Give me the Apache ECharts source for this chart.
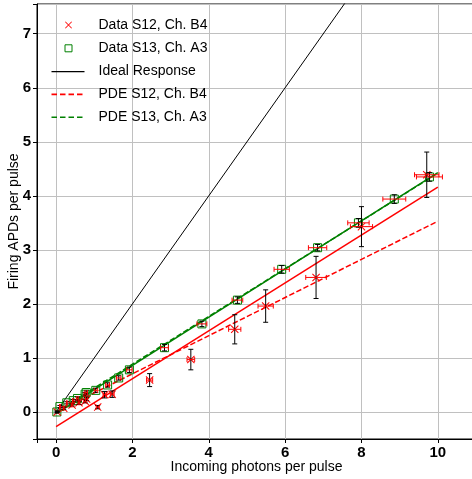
<!DOCTYPE html>
<html>
<head>
<meta charset="utf-8">
<script src="https://cdn.jsdelivr.net/npm/echarts@6/dist/echarts.min.js"></script>
<style>
html,body{margin:0;padding:0;background:#fff;}
#chart{width:472px;height:479px;}
</style>
</head>
<body>
<div id="chart"></div>
<script>
// ---- data ----
const s12X    = [0.03, 0.20, 0.42, 0.60, 0.76, 0.80, 1.09, 1.27, 1.47, 2.45, 3.53, 4.68, 5.49, 6.81, 8.00, 9.71];
const s12Y    = [0.00, 0.07, 0.13, 0.17, 0.20, 0.24, 0.09, 0.32, 0.33, 0.59, 0.97, 1.53, 1.96, 2.49, 3.43, 4.39];
const s12XErr = [0.00, 0.01, 0.02, 0.02, 0.03, 0.03, 0.04, 0.04, 0.05, 0.08, 0.10, 0.16, 0.20, 0.27, 0.29, 0.32];
const s12YErr = [0.01, 0.02, 0.02, 0.03, 0.03, 0.03, 0.03, 0.06, 0.06, 0.12, 0.19, 0.27, 0.30, 0.39, 0.37, 0.42];

const s13X    = [0.02, 0.10, 0.28, 0.45, 0.56, 0.76, 0.79, 1.04, 1.35, 1.64, 1.92, 2.84, 3.82, 4.75, 5.91, 6.85, 7.92, 8.86, 9.78];
const s13Y    = [0.00, 0.10, 0.17, 0.21, 0.25, 0.33, 0.36, 0.40, 0.50, 0.63, 0.78, 1.19, 1.63, 2.07, 2.64, 3.04, 3.50, 3.94, 4.35];
const s13XErr = [0.00, 0.01, 0.01, 0.02, 0.02, 0.03, 0.03, 0.04, 0.05, 0.06, 0.07, 0.10, 0.13, 0.14, 0.20, 0.24, 0.28, 0.30, 0.34];
const s13YErr = [0.02, 0.02, 0.02, 0.02, 0.03, 0.03, 0.03, 0.04, 0.04, 0.04, 0.05, 0.06, 0.05, 0.06, 0.07, 0.06, 0.08, 0.08, 0.08];

const lineX    = [0, 10];
const idealY   = [0, 10];
const fitS12Y  = [-0.27, 4.16];
const pdeS12Y  = [0.00, 3.53];
const fitS13Y  = [-0.03, 4.43];
const pdeS13Y  = [0.00, 4.42];

const xTickValues = [0, 2, 4, 6, 8, 10];
const yTickValues = [0, 1, 2, 3, 4, 5, 6, 7];

const legendNames = ['Data S12, Ch. B4', 'Data S13, Ch. A3', 'Ideal Response', 'PDE S12, Ch. B4', 'PDE S13, Ch. A3'];

// ---- helpers ----
const zip2 = (a, b) => a.map((v, i) => [v, b[i]]);
const zip4 = (a, b, c, d) => a.map((v, i) => [v, b[i], c[i], d[i]]);

const RED = '#ff0000', GREEN = '#008000', FONT = 'Liberation Sans';

function renderErr(params, api) {
  const x = api.value(0), y = api.value(1), ex = api.value(2), ey = api.value(3);
  const cap = 2.5;
  const children = [];
  if (ey > 0) {
    const t = api.coord([x, y + ey]), b = api.coord([x, y - ey]);
    children.push({type: 'line', shape: {x1: t[0], y1: t[1], x2: b[0], y2: b[1]}, style: {stroke: '#000', lineWidth: 1}});
    children.push({type: 'line', shape: {x1: t[0] - cap, y1: t[1], x2: t[0] + cap, y2: t[1]}, style: {stroke: '#000', lineWidth: 1}});
    children.push({type: 'line', shape: {x1: b[0] - cap, y1: b[1], x2: b[0] + cap, y2: b[1]}, style: {stroke: '#000', lineWidth: 1}});
  }
  if (ex > 0) {
    const l = api.coord([x - ex, y]), r = api.coord([x + ex, y]);
    children.push({type: 'line', shape: {x1: l[0], y1: l[1], x2: r[0], y2: r[1]}, style: {stroke: RED, lineWidth: 1}});
    children.push({type: 'line', shape: {x1: l[0], y1: l[1] - cap, x2: l[0], y2: l[1] + cap}, style: {stroke: RED, lineWidth: 1}});
    children.push({type: 'line', shape: {x1: r[0], y1: r[1] - cap, x2: r[0], y2: r[1] + cap}, style: {stroke: RED, lineWidth: 1}});
  }
  return {type: 'group', children};
}

// filled "x" marker shape
const xMarker = 'path://M0,0.9L0.9,0L10,9.1L9.1,10ZM9.1,0L10,0.9L0.9,10L0,9.1Z';

// legend icons (bbox 0..42 x 0..14, drawn in 0..33)
const BB = 'M0,0M42,14';
const iconX = 'path://' + BB + 'M13.5,4.1L14.1,3.5L20.5,9.9L19.9,10.5ZM19.9,3.5L20.5,4.1L14.1,10.5L13.5,9.9Z';
const iconSq = 'path://' + BB + 'M13.5,3.5L20.5,3.5L20.5,10.5L13.5,10.5Z';
const iconSolid = 'path://' + BB + 'M0,6.4h33v1.2h-33z';
const iconDash = 'path://' + BB + 'M0,6.2h5.5v1.6h-5.5zM8.5,6.2h5.5v1.6h-5.5zM17,6.2h5.5v1.6h-5.5zM25.5,6.2h5.5v1.6h-5.5z';

const chart = echarts.init(document.getElementById('chart'), null, {renderer: 'canvas'});
chart.setOption({
  animation: false,
  backgroundColor: '#fff',
  textStyle: {fontFamily: FONT},
  grid: {left: 37, right: -4, top: 4, bottom: 40, containLabel: false, outerBoundsMode: 'none',
         show: true, borderColor: '#000', borderWidth: 1, backgroundColor: 'transparent'},
  legend: {
    orient: 'vertical', left: 51, top: 18, padding: 0, itemGap: 8.8,
    itemWidth: 42, itemHeight: 14, symbolKeepAspect: false,
    textStyle: {fontFamily: FONT, fontSize: 14, color: '#000'},
    data: [
      {name: legendNames[0], icon: iconX, itemStyle: {color: RED, borderWidth: 0}},
      {name: legendNames[1], icon: iconSq, itemStyle: {color: 'rgba(0,0,0,0)', borderColor: GREEN, borderWidth: 1}},
      {name: legendNames[2], icon: iconSolid, itemStyle: {color: '#000', borderWidth: 0}},
      {name: legendNames[3], icon: iconDash, itemStyle: {color: RED, borderWidth: 0}},
      {name: legendNames[4], icon: iconDash, itemStyle: {color: GREEN, borderWidth: 0}}
    ]
  },
  xAxis: {
    type: 'value', min: -0.5, max: 11, minInterval: 2, maxInterval: 2,
    name: 'Incoming photons per pulse', nameLocation: 'middle', nameGap: 21, nameMoveOverlap: false,
    nameTextStyle: {fontFamily: FONT, fontSize: 14, color: '#000', verticalAlign: 'top'},
    axisLine: {onZero: false, lineStyle: {color: '#000', width: 1}},
    axisTick: {length: 4, lineStyle: {color: '#000'}},
    axisLabel: {margin: 6, fontFamily: FONT, fontSize: 15, fontWeight: 'bold', color: '#000',
      formatter: v => xTickValues.includes(v) ? String(v) : ''},
    splitLine: {show: true, lineStyle: {color: '#c0c0c0', width: 1}}
  },
  yAxis: {
    type: 'value', min: -0.5, max: 7.55, minInterval: 1, maxInterval: 1,
    name: 'Firing APDs per pulse', nameLocation: 'middle', nameGap: 16, nameMoveOverlap: false,
    nameTextStyle: {fontFamily: FONT, fontSize: 14, color: '#000'},
    axisLine: {onZero: false, lineStyle: {color: '#000', width: 1}},
    axisTick: {length: 4, lineStyle: {color: '#000'}},
    axisLabel: {margin: 6, fontFamily: FONT, fontSize: 15, fontWeight: 'bold', color: '#000',
      formatter: v => yTickValues.includes(v) ? String(v) : ''},
    splitLine: {show: true, lineStyle: {color: '#c0c0c0', width: 1}}
  },
  series: [
    {name: 'Ideal Response', type: 'line', data: zip2(lineX, idealY), symbol: 'none', clip: true, z: 2,
     lineStyle: {color: '#000', width: 1}, itemStyle: {color: '#000'}},
    {name: 'Fit S12', type: 'line', data: zip2(lineX, fitS12Y), symbol: 'none', clip: true, z: 2,
     lineStyle: {color: RED, width: 1.5}, itemStyle: {color: RED}},
    {name: 'Fit S13', type: 'line', data: zip2(lineX, fitS13Y), symbol: 'none', clip: true, z: 2,
     lineStyle: {color: GREEN, width: 1.5}, itemStyle: {color: GREEN}},
    {name: 'PDE S12, Ch. B4', type: 'line', data: zip2(lineX, pdeS12Y), symbol: 'none', clip: true, z: 2,
     lineStyle: {color: RED, width: 1.5, type: [5.5, 2.4]}, itemStyle: {color: RED}},
    {name: 'PDE S13, Ch. A3', type: 'line', data: zip2(lineX, pdeS13Y), symbol: 'none', clip: true, z: 2,
     lineStyle: {color: GREEN, width: 1.5, type: [5.5, 2.4]}, itemStyle: {color: GREEN}},
    {name: 'Data S13, Ch. A3', type: 'scatter', data: zip2(s13X, s13Y), symbol: 'rect', symbolSize: 8, z: 3,
     itemStyle: {color: 'rgba(0,0,0,0)', borderColor: GREEN, borderWidth: 1, opacity: 1}},
    {name: 'Data S12, Ch. B4', type: 'scatter', data: zip2(s12X, s12Y), symbol: xMarker, symbolSize: 8, z: 3,
     itemStyle: {color: RED, borderWidth: 0, opacity: 1}},
    {name: 'err13', type: 'custom', data: zip4(s13X, s13Y, s13XErr, s13YErr), renderItem: renderErr, clip: true, z: 4,
     encode: {x: 0, y: 1}},
    {name: 'err12', type: 'custom', data: zip4(s12X, s12Y, s12XErr, s12YErr), renderItem: renderErr, clip: true, z: 4,
     encode: {x: 0, y: 1}}
  ]
});
</script>
</body>
</html>
